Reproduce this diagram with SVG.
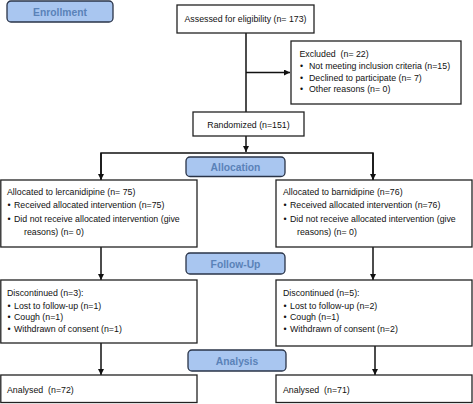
<svg xmlns="http://www.w3.org/2000/svg" width="473" height="404" viewBox="0 0 473 404">
<defs>
<marker id="ah" viewBox="0 0 10 10" refX="10" refY="5" markerWidth="4" markerHeight="4" orient="auto" markerUnits="strokeWidth">
<path d="M0,0 L10,5 L0,10 z" fill="#111"/>
</marker>
<style>
.box{fill:#fff;stroke:#222;stroke-width:1.3}
.hdr{fill:#a9c6f0;stroke:#2a3448;stroke-width:1.3}
.ht{font-family:"Liberation Sans",Arial,sans-serif;font-weight:bold;font-size:10.3px;fill:#5a82b8;text-anchor:middle}
.t{font-family:"Liberation Sans",Arial,sans-serif;font-size:8.8px;fill:#111}
.c{text-anchor:middle}
.con{fill:none;stroke:#111;stroke-width:1.5}
</style>
</defs>
<rect width="473" height="404" fill="#fff"/>
<g id="connectors">
<line class="con" x1="246" y1="33" x2="246" y2="112"/>
<line class="con" x1="246" y1="72.5" x2="290" y2="72.5" marker-end="url(#ah)"/>
<line class="con" x1="246" y1="136" x2="246" y2="152" marker-end="url(#ah)"/>
<polyline class="con" points="101,180 101,153 373,153 373,180"/>
<line class="con" x1="101" y1="153" x2="101" y2="180" marker-end="url(#ah)"/>
<line class="con" x1="373" y1="153" x2="373" y2="180" marker-end="url(#ah)"/>
<line class="con" x1="101" y1="247" x2="101" y2="280" marker-end="url(#ah)"/>
<line class="con" x1="373" y1="247" x2="373" y2="280" marker-end="url(#ah)"/>
<line class="con" x1="101" y1="343" x2="101" y2="375" marker-end="url(#ah)"/>
<line class="con" x1="375" y1="346" x2="375" y2="375" marker-end="url(#ah)"/>
</g>
<g id="enrollment">
<rect class="hdr" x="7" y="1" width="106" height="21" rx="4"/>
<text class="ht" x="60" y="15.8">Enrollment</text>
</g>
<g id="assessed">
<rect class="box" x="177" y="5" width="137" height="28"/>
<text class="t c" x="245.5" y="21.5">Assessed for eligibility (n= 173)</text>
</g>
<g id="excluded">
<rect class="box" x="291" y="41" width="170" height="63"/>
<text class="t" x="299.5" y="56.5" xml:space="preserve">Excluded  (n= 22)</text>
<text class="t" x="300" y="68.5">•</text><text class="t" x="309" y="68.5">Not meeting inclusion criteria (n=15)</text>
<text class="t" x="300" y="80.5">•</text><text class="t" x="309" y="80.5">Declined to participate (n= 7)</text>
<text class="t" x="300" y="92">•</text><text class="t" x="309" y="92">Other reasons (n= 0)</text>
</g>
<g id="randomized">
<rect class="box" x="193" y="112" width="111" height="24"/>
<text class="t c" x="248.5" y="127.5">Randomized (n=151)</text>
</g>
<g id="allocation">
<rect class="hdr" x="186" y="157" width="99" height="19.5" rx="4"/>
<text class="ht" x="235.5" y="170.5">Allocation</text>
</g>
<g id="alloc-left">
<rect class="box" x="0.8" y="180" width="196.2" height="67"/>
<text class="t" x="7" y="195">Allocated to lercanidipine (n= 75)</text>
<text class="t" x="7.5" y="208">•</text><text class="t" x="14" y="208">Received allocated intervention (n=75)</text>
<text class="t" x="7.5" y="222">•</text><text class="t" x="14" y="222">Did not receive allocated intervention (give</text>
<text class="t" x="24" y="235">reasons) (n= 0)</text>
</g>
<g id="alloc-right">
<rect class="box" x="276" y="180" width="196" height="67"/>
<text class="t" x="283" y="195">Allocated to barnidipine (n=76)</text>
<text class="t" x="283.5" y="208">•</text><text class="t" x="290" y="208">Received allocated intervention (n=76)</text>
<text class="t" x="283.5" y="222">•</text><text class="t" x="290" y="222">Did not receive allocated intervention (give</text>
<text class="t" x="297" y="235">reasons) (n= 0)</text>
</g>
<g id="followup">
<rect class="hdr" x="186" y="253" width="99" height="21" rx="4"/>
<text class="ht" x="235.5" y="267.5">Follow-Up</text>
</g>
<g id="disc-left">
<rect class="box" x="0.8" y="280" width="196.2" height="63"/>
<text class="t" x="7" y="296">Discontinued (n=3):</text>
<text class="t" x="7.5" y="308.5">•</text><text class="t" x="14" y="308.5">Lost to follow-up (n=1)</text>
<text class="t" x="7.5" y="320">•</text><text class="t" x="14" y="320">Cough (n=1)</text>
<text class="t" x="7.5" y="331.5">•</text><text class="t" x="14" y="331.5">Withdrawn of consent (n=1)</text>
</g>
<g id="disc-right">
<rect class="box" x="276" y="280" width="196" height="66"/>
<text class="t" x="283" y="296">Discontinued (n=5):</text>
<text class="t" x="283.5" y="308.5">•</text><text class="t" x="290" y="308.5">Lost to follow-up (n=2)</text>
<text class="t" x="283.5" y="320">•</text><text class="t" x="290" y="320">Cough (n=1)</text>
<text class="t" x="283.5" y="331.5">•</text><text class="t" x="290" y="331.5">Withdrawn of consent (n=2)</text>
</g>
<g id="analysis">
<rect class="hdr" x="188" y="350" width="98" height="21" rx="4"/>
<text class="ht" x="237" y="364.5">Analysis</text>
</g>
<g id="analysed-left">
<rect class="box" x="0.8" y="375" width="196.2" height="27.5"/>
<text class="t" x="7" y="393" xml:space="preserve">Analysed  (n=72)</text>
</g>
<g id="analysed-right">
<rect class="box" x="276" y="375" width="196" height="27.5"/>
<text class="t" x="283" y="393" xml:space="preserve">Analysed  (n=71)</text>
</g>
</svg>
